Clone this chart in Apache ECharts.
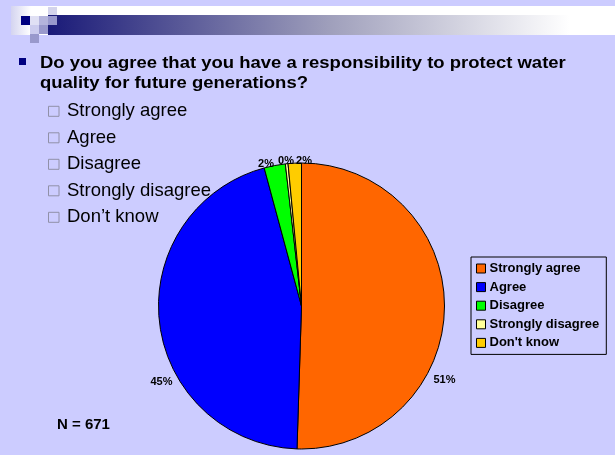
<!DOCTYPE html>
<html><head><meta charset="utf-8">
<script src="https://cdn.jsdelivr.net/npm/echarts@6/dist/echarts.min.js"></script>
<style>html,body{margin:0;padding:0;background:#CCCCFF;}#c{width:615px;height:455px;}</style>
</head><body><div id="c"></div>
<script>
var categories = ['Strongly agree', 'Agree', 'Disagree', 'Strongly disagree', "Don\u2019t know"];
var legendNames = ['Strongly agree', 'Agree', 'Disagree', 'Strongly disagree', "Don't know"];
var values = [50.5, 45.3, 2.4, 0.3, 1.5];
var sliceColors = ['#FF6600', '#0000FF', '#00FF00', '#FFFF99', '#FFCC00'];
var titleLines = ['Do you agree that you have a responsibility to protect water', 'quality for future generations?'];
var sampleText = 'N = 671';

var labelPos = [[444.5, 380], [161.5, 382], [266, 164], [286, 161], [304, 161]];

var FONT = '"Liberation Sans", Arial, sans-serif';
var chart = echarts.init(document.getElementById('c'), null, {renderer: 'canvas'});

var graphics = [
  {type: 'rect', shape: {x: 11, y: 6, width: 604, height: 29}, style: {fill: '#FFFFFF'}, z: 0},
  {type: 'rect', shape: {x: 11, y: 6, width: 20, height: 29}, style: {fill: new echarts.graphic.LinearGradient(0, 0, 1, 0, [{offset: 0, color: '#D4D4F0'}, {offset: 1, color: '#FFFFFF'}])}, z: 1},
  {type: 'rect', shape: {x: 48, y: 15, width: 567, height: 20}, style: {fill: new echarts.graphic.LinearGradient(0, 0, 1, 0, [{offset: 0, color: '#1A1A78'}, {offset: 0.5, color: '#A0A0BC'}, {offset: 0.92, color: '#FFFFFF'}, {offset: 1, color: '#FFFFFF'}])}, z: 1},
  {type: 'rect', shape: {x: 21, y: 16, width: 9, height: 9}, style: {fill: '#000080'}, z: 2},
  {type: 'rect', shape: {x: 30, y: 16, width: 9, height: 9}, style: {fill: '#E0E0F4'}, z: 2},
  {type: 'rect', shape: {x: 48, y: 7, width: 9, height: 8}, style: {fill: '#D4D4EC'}, z: 2},
  {type: 'rect', shape: {x: 39, y: 16, width: 9, height: 9}, style: {fill: '#B4B4DC'}, z: 2},
  {type: 'rect', shape: {x: 48, y: 16, width: 9, height: 9}, style: {fill: '#9999CC'}, z: 2},
  {type: 'rect', shape: {x: 30, y: 25, width: 9, height: 9}, style: {fill: '#CCCCEE'}, z: 2},
  {type: 'rect', shape: {x: 39, y: 25, width: 9, height: 9}, style: {fill: '#9999CC'}, z: 2},
  {type: 'rect', shape: {x: 30, y: 34, width: 9, height: 9}, style: {fill: '#9999CC'}, z: 2},
  {type: 'rect', shape: {x: 19, y: 58, width: 7, height: 7}, style: {fill: '#000080'}, z: 2}
];
titleLines.forEach(function (t, i) {
  graphics.push({type: 'text', x: 40, y: 63.6 + i * 20, scaleX: 1.12, style: {text: t, font: 'bold 16.5px ' + FONT, fill: '#000', textVerticalAlign: 'middle'}, z: 3});
});
categories.forEach(function (t, i) {
  var cy = 111.3 + i * 26.5;
  graphics.push({type: 'rect', shape: {x: 48.5, y: cy - 5, width: 10.5, height: 10}, style: {fill: 'none', stroke: '#9090A8', lineWidth: 1}, z: 3});
  graphics.push({type: 'text', x: 67, y: cy, style: {text: t, font: '18.5px ' + FONT, fill: '#000', textVerticalAlign: 'middle'}, z: 3});
});
graphics.push({type: 'text', x: 57, y: 425, style: {text: sampleText, font: 'bold 15px ' + FONT, fill: '#000', textVerticalAlign: 'middle'}, z: 3});

chart.setOption({
  backgroundColor: '#CCCCFF',
  animation: false,
  graphic: graphics,
  legend: {
    orient: 'vertical',
    left: 471, top: 257,
    padding: [5, 7, 5, 5],
    itemGap: 5.6,
    itemWidth: 9, itemHeight: 9,
    borderColor: '#000', borderWidth: 1,
    icon: 'rect',
    data: legendNames,
    textStyle: {fontFamily: FONT, fontWeight: 'bold', fontSize: 13, color: '#000', padding: [0, 0, 0, -1]},
    itemStyle: {borderColor: '#000', borderWidth: 1}
  },
  series: [{
    type: 'pie',
    center: [301.5, 306],
    radius: 143,
    startAngle: 90,
    clockwise: true,
    silent: true,
    data: values.map(function (v, i) {
      return {name: legendNames[i], value: v, itemStyle: {color: sliceColors[i]}};
    }),
    itemStyle: {borderColor: '#000', borderWidth: 1},
    label: {
      show: true, position: 'outside',
      formatter: function (p) { return Math.round(p.value) + '%'; },
      fontFamily: FONT, fontWeight: 'bold', fontSize: 11, color: '#000'
    },
    labelLine: {show: false},
    labelLayout: function (p) {
      var pos = labelPos[p.dataIndex];
      return {x: pos[0], y: pos[1], align: 'center', verticalAlign: 'middle', hideOverlap: false, moveOverlap: false};
    }
  }]
});
</script></body></html>
